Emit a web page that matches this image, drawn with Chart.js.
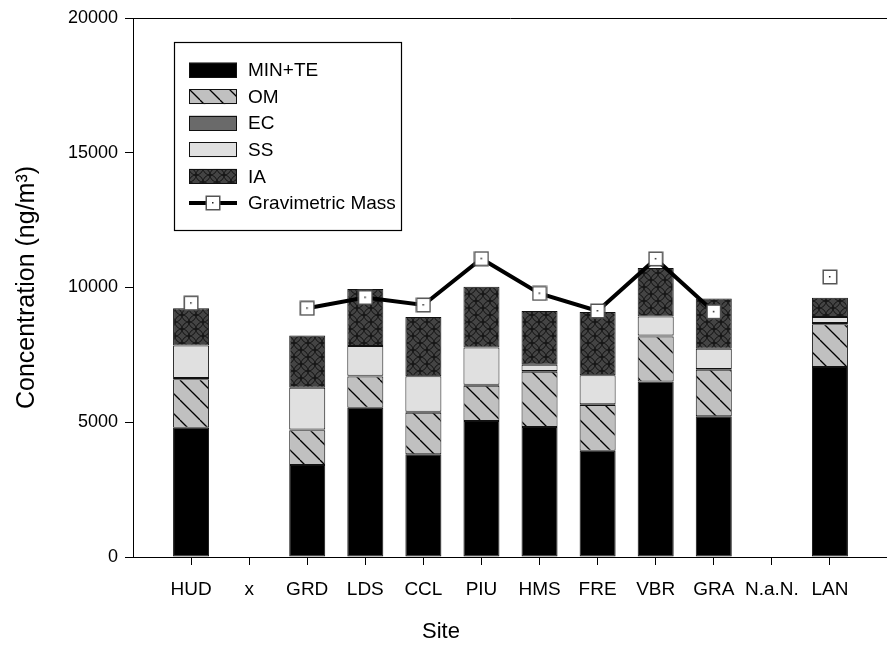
<!DOCTYPE html>
<html>
<head>
<meta charset="utf-8">
<title>Concentration by site</title>
<script src="https://cdn.jsdelivr.net/npm/chart.js@4/dist/chart.umd.min.js"></script>
<style>
  html, body { margin: 0; padding: 0; background: #fff; overflow: hidden; }
  #wrap { width: 887px; height: 646px; overflow: hidden; }
</style>
</head>
<body>
<div id="wrap"><canvas id="chart" width="901" height="646"></canvas></div>
<script>
// Sites on the x axis (x and N.a.N. carry no data)
const sites = ['HUD', 'x', 'GRD', 'LDS', 'CCL', 'PIU', 'HMS', 'FRE', 'VBR', 'GRA', 'N.a.N.', 'LAN'];

// Stacked components, ng/m3
const minTe = [4800, null, 3410, 5540, 3810, 5050, 4820, 3940, 6510, 5220, null, 7050];
const om    = [1800, null, 1290, 1160, 1540, 1300, 2050, 1700, 1670, 1730, null, 1590];
const ec    = [40,   null, 30,   30,   40,   40,   30,   30,   40,   30,   null, 40];
const ss    = [1210, null, 1550, 1100, 1320, 1380, 230,  1070, 700,  750,  null, 230];
const ia    = [1380, null, 1940, 2110, 2200, 2260, 2000, 2350, 1800, 1860, null, 710];

// Gravimetric mass, ng/m3
const gravMass = [9420, null, 9230, 9630, 9350, 11070, 9780, 9130, 11060, 9100, null, 10390];

const yTicks = [0, 5000, 10000, 15000, 20000];

const FONT = '"Liberation Sans", Arial, sans-serif';

// empty slot at each end so the sites sit on whole-number positions
const pad = arr => [null, ...arr, null];

function makeTile(size, draw) {
    const c = document.createElement('canvas');
    c.width = size;
    c.height = size;
    draw(c.getContext('2d'), size);
    return c;
}

const patCtx = document.createElement('canvas').getContext('2d');

// OM: grey with back-slash hatching
const omFill = patCtx.createPattern(makeTile(20, (g, s) => {
    g.fillStyle = '#c0c0c0';
    g.fillRect(0, 0, s, s);
    g.strokeStyle = '#000';
    g.lineWidth = 1.3;
    for (const k of [-1, 0, 1]) {
        g.beginPath();
        g.moveTo(0, k * s);
        g.lineTo(s, s + k * s);
        g.stroke();
    }
}), 'repeat');

// IA: dark grey with interlocking circles
const iaFill = patCtx.createPattern(makeTile(14, (g, s) => {
    g.fillStyle = '#444';
    g.fillRect(0, 0, s, s);
    g.strokeStyle = '#141414';
    g.lineWidth = 1;
    for (const [cx, cy] of [[0, 0], [s, 0], [0, s], [s, s], [s / 2, s / 2]]) {
        g.beginPath();
        g.arc(cx, cy, s / 2, 0, Math.PI * 2);
        g.stroke();
    }
}), 'repeat');

// open square marker with a centre dot
const marker = makeTile(16, (g) => {
    g.fillStyle = '#fff';
    g.fillRect(1, 1, 14, 14);
    g.strokeStyle = '#555';
    g.lineWidth = 1.5;
    g.strokeRect(1.25, 1.25, 13.5, 13.5);
    g.fillStyle = '#222';
    g.fillRect(7, 7, 1.5, 1.5);
});

function bar(label, values, fill) {
    return {
        label: label,
        data: pad(values),
        backgroundColor: fill,
        borderColor: '#111',
        borderWidth: 1,
        borderSkipped: false,
        barPercentage: 0.62,
        categoryPercentage: 1,
        stack: 'parts'
    };
}

// legend box inside the plot, top frame line and the x title
const boxLegend = {
    id: 'boxLegend',
    afterDraw(chart) {
        const g = chart.ctx;
        const area = chart.chartArea;
        g.save();

        g.strokeStyle = '#000';
        g.lineWidth = 1;
        g.beginPath();
        g.moveTo(area.left, area.top + 0.5);
        g.lineTo(area.right, area.top + 0.5);
        g.stroke();

        g.lineWidth = 1.2;
        g.strokeRect(174.5, 42.5, 227, 188);

        g.font = '19px ' + FONT;
        g.textBaseline = 'middle';
        g.textAlign = 'left';

        chart.data.datasets.forEach((ds, i) => {
            const y = 70 + i * 26.6;
            if (ds.type === 'line') {
                g.strokeStyle = '#000';
                g.lineWidth = 4;
                g.beginPath();
                g.moveTo(189, y);
                g.lineTo(237, y);
                g.stroke();
                g.drawImage(marker, 213 - 8, Math.round(y) - 8);
            } else {
                g.fillStyle = ds.backgroundColor;
                g.fillRect(189, y - 7.5, 48, 15);
                g.strokeStyle = '#111';
                g.lineWidth = 1;
                g.strokeRect(189.5, Math.round(y - 7.5) + 0.5, 47, 14);
            }
            g.fillStyle = '#000';
            g.fillText(ds.label, 248, y + 1);
        });

        g.font = '22px ' + FONT;
        g.textAlign = 'center';
        g.fillText('Site', 441, 632);
        g.restore();
    }
};

new Chart(document.getElementById('chart'), {
    type: 'bar',
    data: {
        labels: pad(sites).map(s => s === null ? '' : s),
        datasets: [
            bar('MIN+TE', minTe, '#000'),
            bar('OM', om, omFill),
            bar('EC', ec, '#6a6a6a'),
            bar('SS', ss, '#e0e0e0'),
            bar('IA', ia, iaFill),
            {
                type: 'line',
                label: 'Gravimetric Mass',
                data: pad(gravMass),
                stack: 'gm',
                order: -1,
                borderColor: '#000',
                borderWidth: 4,
                tension: 0,
                spanGaps: false,
                pointStyle: marker,
                pointRadius: 8,
                pointHoverRadius: 8
            }
        ]
    },
    options: {
        responsive: false,
        animation: false,
        events: [],
        layout: { padding: { top: 18, right: 0, bottom: 0, left: 0 } },
        plugins: {
            legend: { display: false },
            tooltip: { enabled: false }
        },
        scales: {
            x: {
                stacked: true,
                offset: false,
                border: { display: true, color: '#000', width: 1 },
                grid: {
                    offset: false,
                    drawOnChartArea: false,
                    tickLength: 8,
                    tickColor: ctx => (ctx.index === 0 ? 'rgba(0,0,0,0)' : '#000')
                },
                ticks: {
                    color: '#000',
                    font: { family: FONT, size: 19 },
                    padding: 13,
                    maxRotation: 0,
                    autoSkip: false
                },
                afterFit: scale => { scale.height = 89; }
            },
            y: {
                stacked: true,
                min: 0,
                max: 20000,
                border: { display: true, color: '#000', width: 1 },
                grid: { drawOnChartArea: false, tickLength: 8, tickColor: '#000' },
                ticks: {
                    color: '#000',
                    font: { family: FONT, size: 18 },
                    padding: 7,
                    callback: value => String(value)
                },
                afterBuildTicks: scale => { scale.ticks = yTicks.map(v => ({ value: v })); },
                title: {
                    display: true,
                    text: 'Concentration (ng/m³)',
                    color: '#000',
                    font: { family: FONT, size: 25 },
                    padding: { top: 12, bottom: 0 }
                },
                afterFit: scale => { scale.width = 133; }
            }
        }
    },
    plugins: [boxLegend]
});
</script>
</body>
</html>
